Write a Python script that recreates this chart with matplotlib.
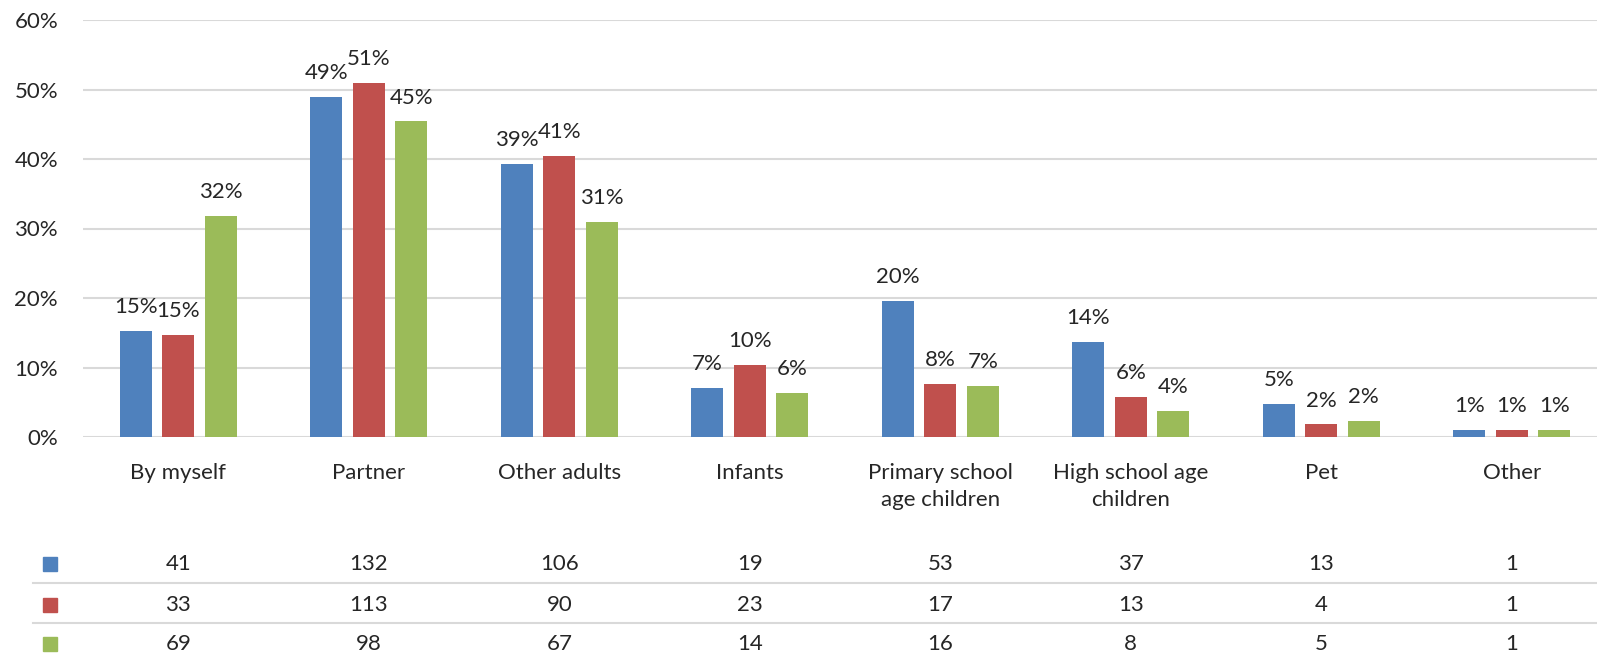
import numpy as np
import matplotlib.pyplot as plt
from matplotlib.lines import Line2D
from matplotlib.transforms import blended_transform_factory

plt.rcParams['font.family'] = ['Lato', 'DejaVu Sans']

# данные
categories = ['By myself', 'Partner', 'Other adults', 'Infants',
              'Primary school\nage children', 'High school age\nchildren', 'Pet', 'Other']
pct_blue = [15.2, 48.9, 39.3, 7.0, 19.6, 13.7, 4.8, 1.0]
pct_red = [14.7, 50.9, 40.5, 10.4, 7.6, 5.8, 1.8, 1.0]
pct_green = [31.8, 45.4, 30.9, 6.4, 7.4, 3.7, 2.3, 1.0]
lbl_blue = ['15%', '49%', '39%', '7%', '20%', '14%', '5%', '1%']
lbl_red = ['15%', '51%', '41%', '10%', '8%', '6%', '2%', '1%']
lbl_green = ['32%', '45%', '31%', '6%', '7%', '4%', '2%', '1%']
cnt_blue = [41, 132, 106, 19, 53, 37, 13, 1]
cnt_red = [33, 113, 90, 23, 17, 13, 4, 1]
cnt_green = [69, 98, 67, 14, 16, 8, 5, 1]

colors = ['#4F81BD', '#C0504D', '#9BBB59']
txt = '#262626'
fs = 16
W, H = 1597, 656

fig = plt.figure(figsize=(W / 100, H / 100), dpi=100)
ax = fig.add_axes([83 / W, 1 - 437 / H, 1524 / W, 417 / H])

x = np.arange(len(categories))
bw = 0.168
step = 0.223
series = [(pct_blue, lbl_blue), (pct_red, lbl_red), (pct_green, lbl_green)]
for i, (vals, lbls) in enumerate(series):
    pos = x + (i - 1) * step
    bars = ax.bar(pos, vals, width=bw, color=colors[i], zorder=3)
    for b, l in zip(bars, lbls):
        ax.annotate(l, (b.get_x() + b.get_width() / 2, b.get_height()),
                    xytext=(0, 10), textcoords='offset points',
                    ha='center', va='bottom', fontsize=fs, color=txt)

ax.set_xlim(-0.5, 7.5)
ax.set_ylim(0, 60)
ax.set_yticks(range(0, 61, 10))
ax.set_yticklabels([f'{v}%' for v in range(0, 61, 10)])
ax.grid(axis='y', color='#D9D9D9', linewidth=1.5, zorder=0)
for s in ax.spines.values():
    s.set_visible(False)
ax.tick_params(axis='y', length=0, pad=18, labelsize=fs, labelcolor=txt)
ax.set_xticks(x)
ax.set_xticklabels(categories, linespacing=1.4)
ax.tick_params(axis='x', length=0, pad=19, labelsize=fs, labelcolor=txt)

# таблица данных
tr = blended_transform_factory(ax.transData, fig.transFigure)
rows_y = [564, 605, 644]
for cnts, c, yy in zip([cnt_blue, cnt_red, cnt_green], colors, rows_y):
    yf = 1 - yy / H
    for xi, v in zip(x, cnts):
        ax.text(xi, yf, str(v), transform=tr, ha='center', va='center',
                fontsize=fs, color=txt, clip_on=False)
    fig.patches.append(plt.Rectangle((43 / W, 1 - (yy + 7) / H), 14 / W, 14 / H,
                                     transform=fig.transFigure, color=c, figure=fig))
for yy in [583, 623]:
    fig.add_artist(Line2D([33 / W, 1], [1 - yy / H, 1 - yy / H],
                          transform=fig.transFigure, color='#D9D9D9', linewidth=1.5))

fig.savefig('out.png', dpi=100)
